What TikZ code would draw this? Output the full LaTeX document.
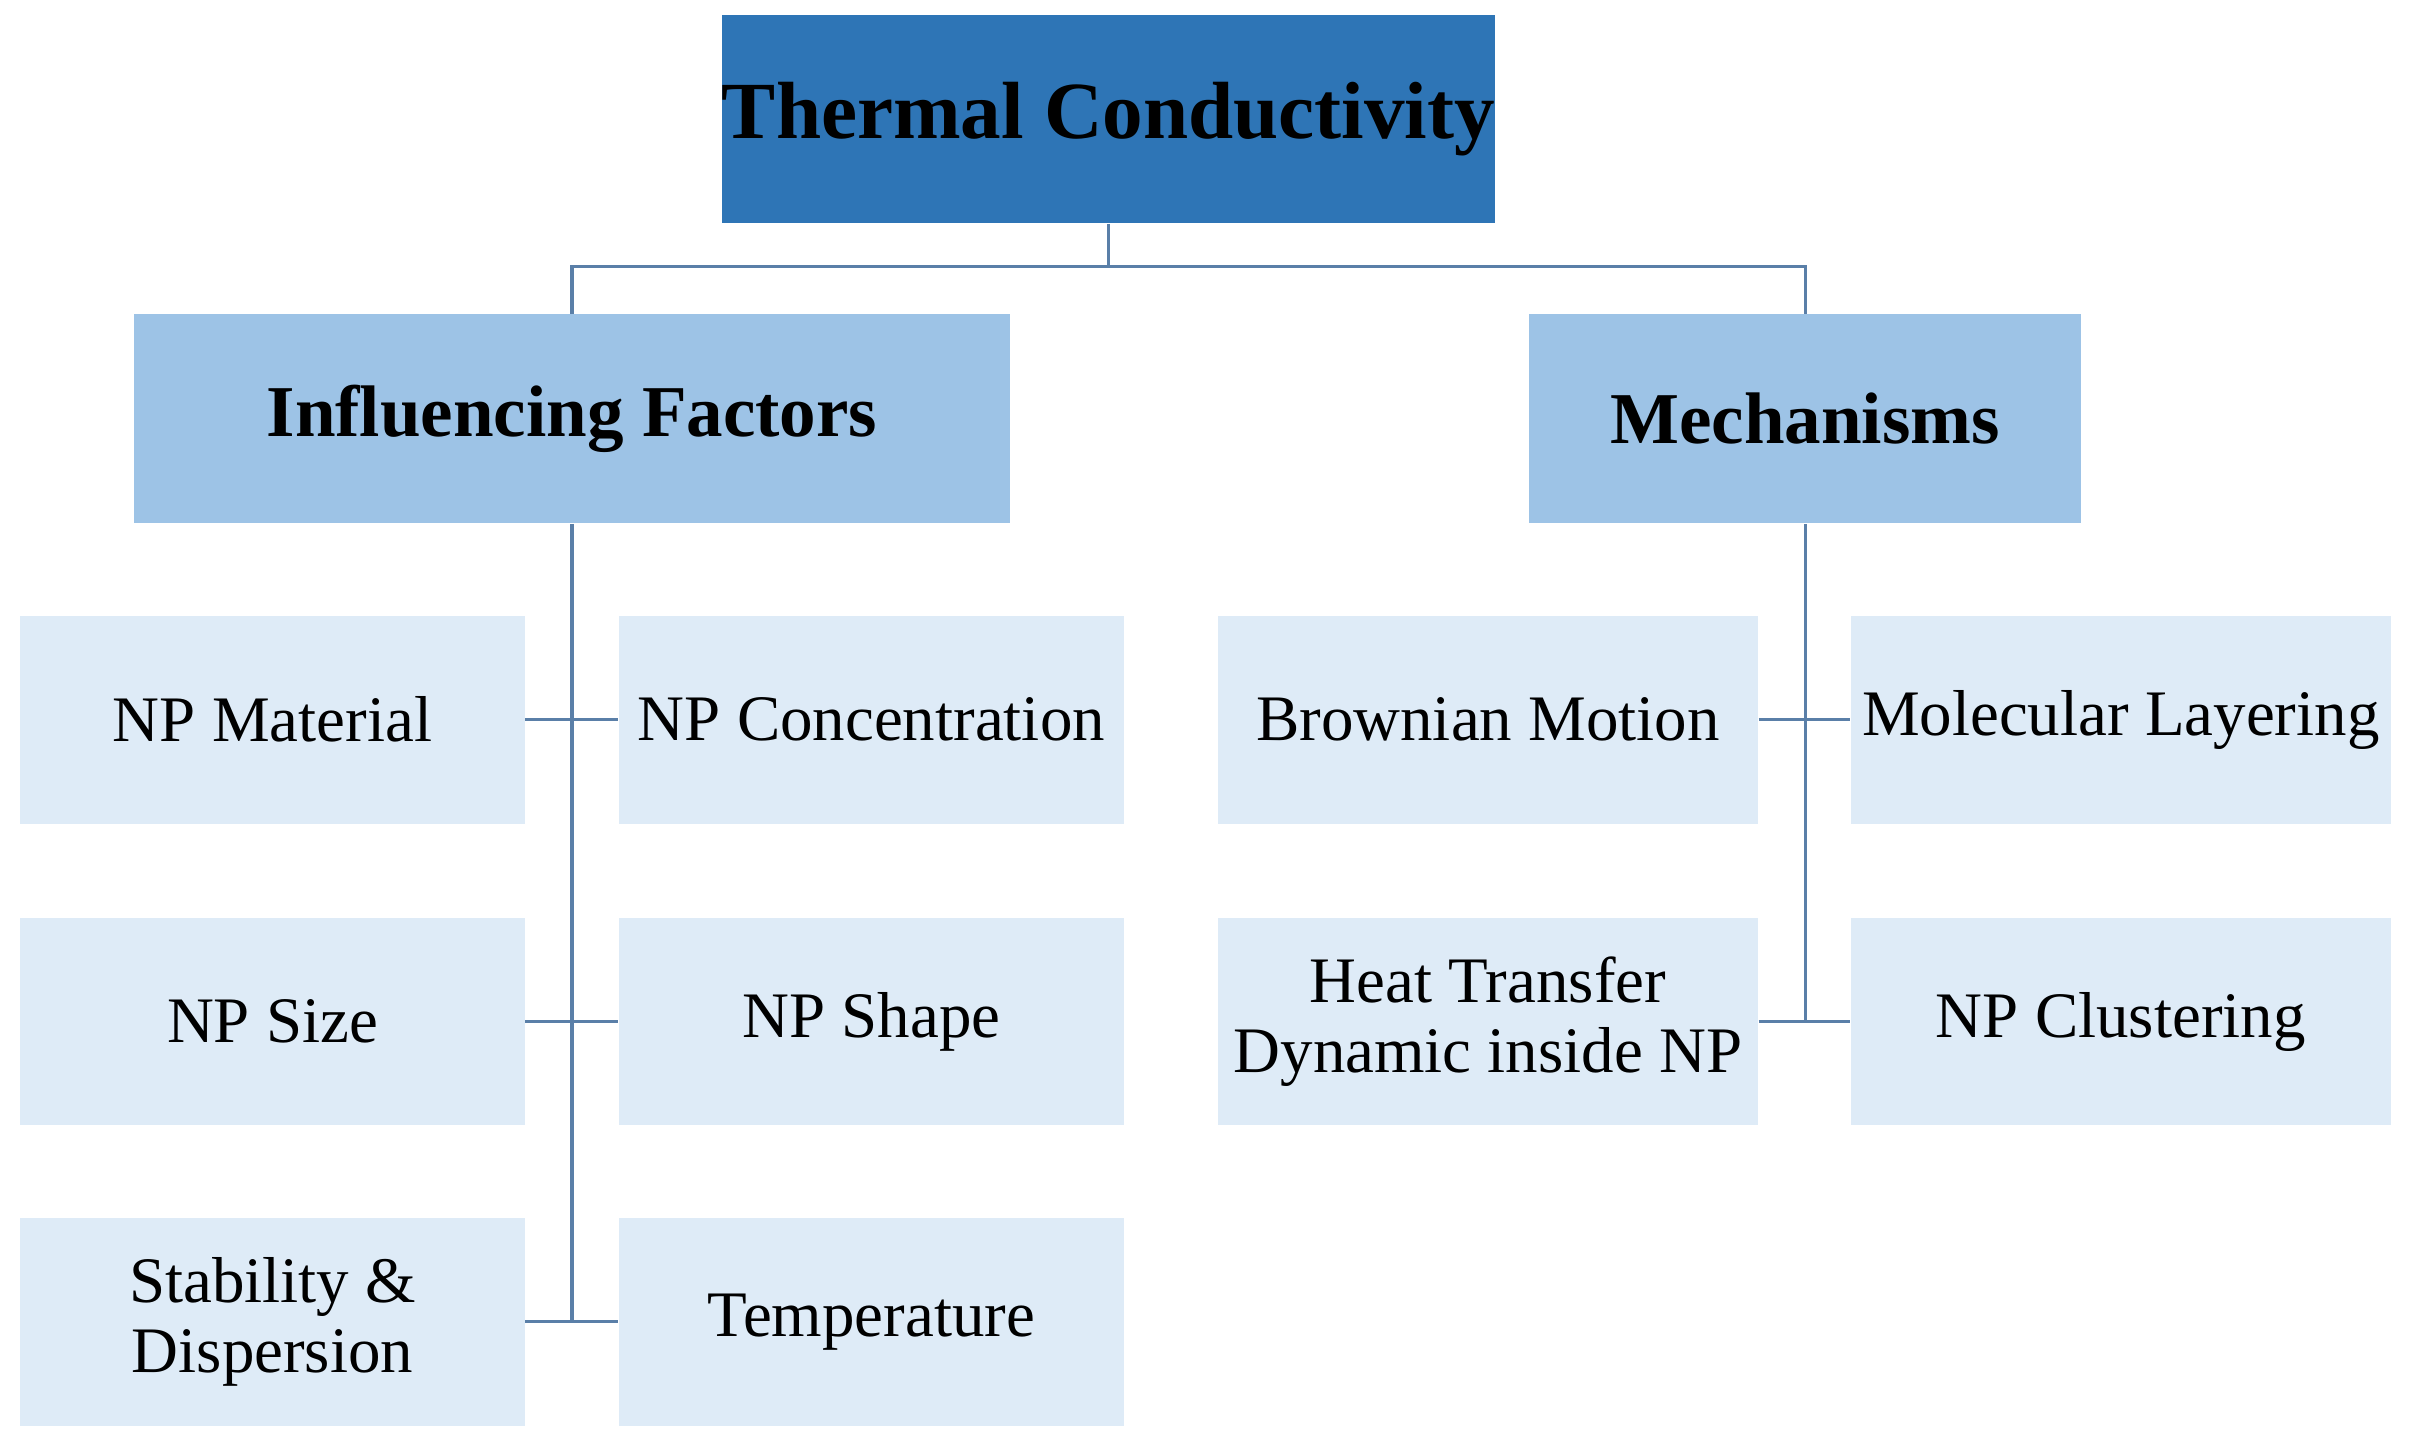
\documentclass[tikz,border=0pt]{standalone}
\usepackage{fontspec}
\setmainfont{Liberation Serif}
\begin{document}
\begin{tikzpicture}[x=0.02cm,y=-0.02cm,
 box/.style={inner sep=0pt,align=center,text=black},
 topbox/.style={box,fill=topc,minimum width=9.2cm,minimum height=2.7cm,font=\fontsize{30}{34}\selectfont\bfseries},
 midbox/.style={box,fill=midc,minimum height=2.72cm,font=\fontsize{27}{31}\selectfont\bfseries},
 leaf/.style={box,fill=leafc,minimum height=2.7cm,font=\fontsize{24}{26}\selectfont},
 conn/.style={draw=linec,line width=1.2pt}]
\definecolor{topc}{HTML}{2E75B6}
\definecolor{midc}{HTML}{9DC3E6}
\definecolor{leafc}{HTML}{DEEBF7}
\definecolor{linec}{HTML}{5A7FA8}
\useasboundingbox (0,0) rectangle (1568,940);
\node[topbox] (top) at (720,77.5) {Thermal Conductivity};
\node[midbox,minimum width=11.38cm] (inf) at (371.5,272) {Influencing Factors};
\node[midbox,minimum width=7.18cm] (mech) at (1172.5,272) {Mechanisms};
\foreach \n/\x/\y/\w/\t in {a/177/467.5/6.56/NP Material, b/566/467.5/6.56/NP Concentration,
 c/177/663.5/6.56/NP Size, d/566/663.5/6.56/NP Shape,
 e/177/858.5/6.56/{Stability \&\\Dispersion}, f/566/858.5/6.56/Temperature,
 g/966.5/467.5/7.02/Brownian Motion, h/1377.5/467.5/7.02/Molecular Layering,
 i/966.5/663.5/7.02/{Heat Transfer\\Dynamic inside NP}, j/1377.5/663.5/7.02/NP Clustering}
 \node[leaf,minimum width=\w cm] (\n) at (\x,\y) {\t};
\coordinate (hub) at (720,173);
\draw[conn] (top.south) -- (hub);
\draw[conn] (inf.north) -- (371.5,173) -- (1172.5,173) -- (mech.north);
\draw[conn] (inf.south) -- (e.east -| inf.south);
\draw[conn] (mech.south) -- (i.east -| mech.south);
\foreach \l/\r in {a/b,c/d,e/f,g/h,i/j} \draw[conn] (\l.east) -- (\r.west);
\end{tikzpicture}
\end{document}
